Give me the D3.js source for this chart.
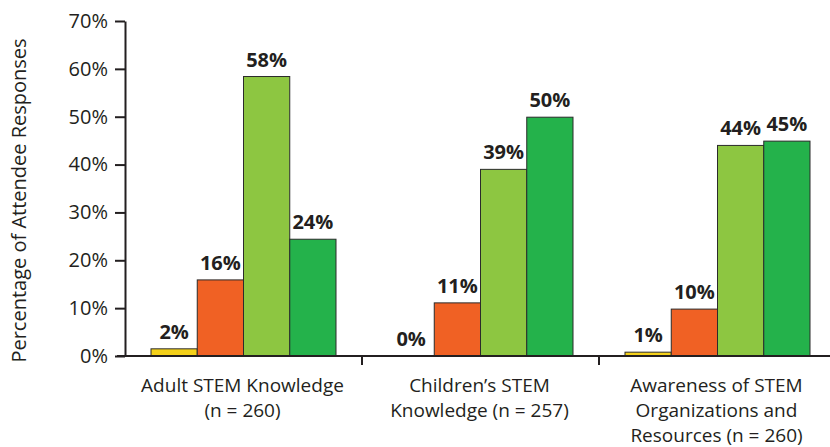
<!DOCTYPE html>
<html>
<head>
<meta charset="utf-8">
<script src="https://cdn.jsdelivr.net/npm/d3@7"></script>
<style>
  body { margin: 0; background: #fff; }
  svg { display: block; font-family: "Open Sans", "Noto Sans", sans-serif; }
</style>
</head>
<body>
<div id="chart"></div>
<script>
// categories (multi-line labels) and series
const categories = ["Adult STEM Knowledge", "Children's STEM Knowledge", "Awareness of STEM Organizations and Resources"];
const categoryLines = [
  ["Adult STEM Knowledge", "(n = 260)"],
  ["Children\u2019s STEM", "Knowledge (n = 257)"],
  ["Awareness of STEM", "Organizations and", "Resources (n = 260)"]
];
const seriesNames = ["s1", "s2", "s3", "s4"];
const seriesColors = ["#f4d11a", "#f06124", "#8dc641", "#24b24b"];
const values = [
  [1.5, 15.9, 58.4, 24.4],
  [0, 11.1, 39.0, 49.9],
  [0.8, 9.8, 44.0, 44.9]
];
const valueLabels = [
  ["2%", "16%", "58%", "24%"],
  ["0%", "11%", "39%", "50%"],
  ["1%", "10%", "44%", "45%"]
];
const yTicks = [0, 10, 20, 30, 40, 50, 60, 70];

const width = 830, height = 447;
const margin = {top: 21, left: 125, bottom: 91, right: -6};

const svg = d3.select('#chart').append('svg')
  .attr('width', width)
  .attr('height', height);

const x0 = d3.scaleBand()
  .domain(categories)
  .range([margin.left, width - margin.right]);

const x1 = d3.scaleBand()
  .domain(seriesNames)
  .range([26, x0.bandwidth() - 26]);

const y = d3.scaleLinear()
  .domain([0, 70])
  .range([height - margin.bottom, margin.top]);

// bars
const groups = svg.append('g').selectAll('g')
  .data(categories)
  .enter().append('g')
  .attr('transform', (d) => `translate(${x0(d)},0)`);

groups.each(function(cat, ci) {
  const g = d3.select(this);
  seriesNames.forEach((s, si) => {
    const v = values[ci][si];
    if (v > 0) {
      g.append('rect')
        .attr('x', x1(s))
        .attr('y', y(v))
        .attr('width', x1.bandwidth())
        .attr('height', y(0) - y(v))
        .attr('fill', seriesColors[si])
        .attr('stroke', '#2b2b2b')
        .attr('stroke-width', 1);
    }
    g.append('text')
      .attr('x', x1(s) + x1.bandwidth() / 2)
      .attr('y', y(v) - 10)
      .attr('text-anchor', 'middle')
      .style('font-size', '20px')
      .style('font-weight', 'bold')
      .style('fill', '#231f20')
      .text(valueLabels[ci][si]);
  });
});

// y axis
const yAxis = svg.append('g')
  .attr('transform', `translate(${margin.left},0)`)
  .call(d3.axisLeft(y).tickValues(yTicks).tickFormat((d) => d + '%').tickSize(10).tickSizeOuter(0));
yAxis.select('.domain').attr('stroke', '#231f20').attr('stroke-width', 2);
yAxis.selectAll('.tick line').attr('stroke', '#231f20').attr('stroke-width', 2);
yAxis.selectAll('.tick text')
  .attr('x', -17)
  .style('font-size', '20px')
  .style('font-family', '"Open Sans", sans-serif')
  .style('fill', '#231f20');

// x axis line
svg.append('line')
  .attr('x1', margin.left - 8)
  .attr('x2', width)
  .attr('y1', y(0))
  .attr('y2', y(0))
  .attr('stroke', '#231f20')
  .attr('stroke-width', 2);

// category separators
categories.slice(1).forEach((c) => {
  svg.append('line')
    .attr('x1', x0(c))
    .attr('x2', x0(c))
    .attr('y1', y(0))
    .attr('y2', y(0) + 9)
    .attr('stroke', '#231f20')
    .attr('stroke-width', 2);
});

// category labels
categories.forEach((c, ci) => {
  const t = svg.append('text')
    .attr('x', x0(c) + x0.bandwidth() / 2 - 1)
    .attr('y', 392)
    .attr('text-anchor', 'middle')
    .style('font-size', '19px')
    .style('fill', '#231f20');
  categoryLines[ci].forEach((line, li) => {
    t.append('tspan')
      .attr('x', x0(c) + x0.bandwidth() / 2 - 1)
      .attr('dy', li === 0 ? 0 : 25)
      .text(line);
  });
});

// y title
svg.append('text')
  .attr('transform', `translate(26,${(margin.top + y(0)) / 2 + 12}) rotate(-90)`)
  .attr('text-anchor', 'middle')
  .style('font-size', '20px')
  .style('fill', '#231f20')
  .text('Percentage of Attendee Responses');
</script>
</body>
</html>
